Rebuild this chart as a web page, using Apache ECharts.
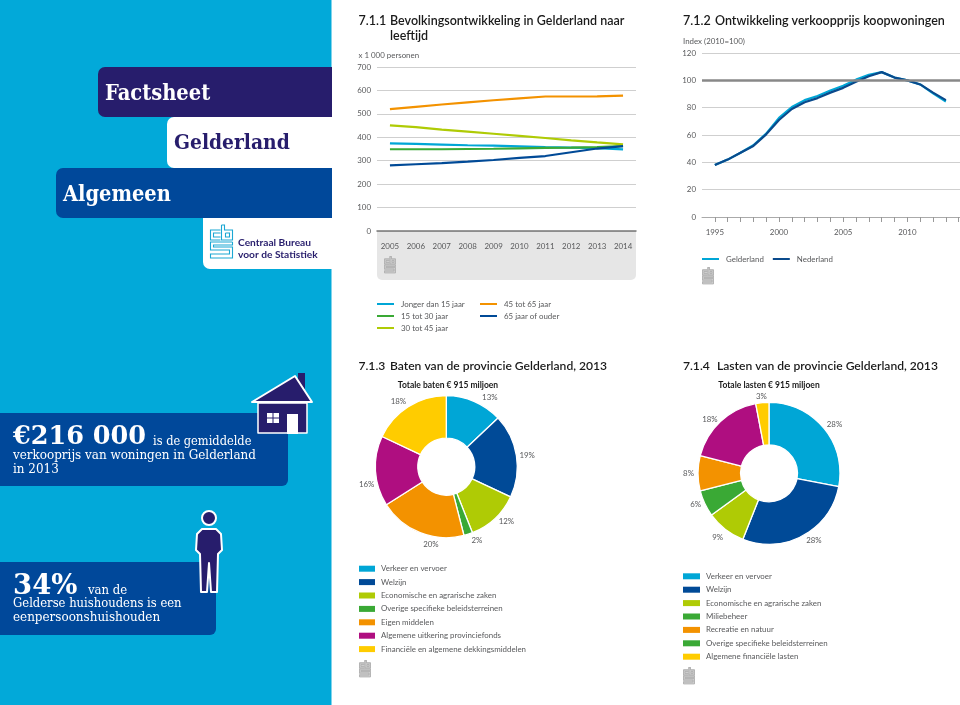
<!DOCTYPE html>
<html><head><meta charset="utf-8">
<style>html,body{margin:0;padding:0;background:#fff}#c{width:960px;height:705px}</style>
<script src="https://cdn.jsdelivr.net/npm/echarts@6/dist/echarts.min.js"></script>
</head><body><div id="c"></div>
<script>
const popYears = ['2005','2006','2007','2008','2009','2010','2011','2012','2013','2014'];
const popYoung = [374,372,369,366,364,361,358,356,354,348];
const pop15to30 = [349,349,349,350,351,353,355,356,358,362];
const pop30to45 = [451,443,433,424,415,406,397,387,378,370];
const pop45to65 = [520,530,540,549,558,566,574,574,575,578];
const pop65plus = [280,285,290,296,303,312,320,336,352,362];
const popNames = ['Jonger dan 15 jaar','15 tot 30 jaar','30 tot 45 jaar','45 tot 65 jaar','65 jaar of ouder'];

const priceYears = [1995,1996,1997,1998,1999,2000,2001,2002,2003,2004,2005,2006,2007,2008,2009,2010,2011,2012,2013];
const priceGelderland = [38,42,47,52.5,61,72.5,80.5,85.5,88.5,92.5,96,100.5,104,106,102,100,97,90.5,84.5];
const priceNederland = [38,42,47,52,60.5,71,79,84,87,91,94.5,99,103,106,102,100,97,91,85.5];
const priceLabelYears = [1995,2000,2005,2010];

const batenNames = ['Verkeer en vervoer','Welzijn','Economische en agrarische zaken','Overige specifieke beleidsterreinen','Eigen middelen','Algemene uitkering provinciefonds','Financiële en algemene dekkingsmiddelen'];
const batenValues = [13,19,12,2,20,16,18];
const lastenNames = ['Verkeer en vervoer','Welzijn','Economische en agrarische zaken','Miliebeheer','Recreatie en natuur','Overige specifieke beleidsterreinen','Algemene financiële lasten'];
const lastenValues = [28,28,9,6,8,18,3];

const CY='#00a6d6',NV='#004a97',LM='#afcb05',GR='#3aa935',OR='#f39200',MG='#af0e80',YL='#ffcc00';
const pieColors=[CY,NV,LM,GR,OR,MG,YL];
const PANEL='#02a9d9',PURPLE='#271d6c',BLUE='#00489a';
const SANS='Lato, "Open Sans", sans-serif', SLAB='"DejaVu Serif Condensed","DejaVu Serif",serif', SLABW='"DejaVu Serif",serif';
const TXT='#58595b', SMALL=7.9;

const g=[];
function rect(x,y,w,h,fill,r,z){g.push({type:'rect',shape:{x,y,width:w,height:h,r:r||0},style:{fill},z:z===undefined?1:z,silent:true});}
function txt(x,y,text,font,fill,align,z){g.push({type:'text',style:{x,y,text,font,fill:fill||TXT,align:align||'left',verticalAlign:'middle'},z:z||5,silent:true});}
function poly(points,fill,stroke,lw,z){g.push({type:'polygon',shape:{points},style:{fill,stroke,lineWidth:lw,lineJoin:'round'},z:z||3,silent:true});}
function logo(x,y,s,color,lw,z){
  const P=a=>a.map(p=>[x+p[0]*s,y+p[1]*s]);
  [[[10,5],[0,5],[0,15],[10,15]],[[10,8],[3,8],[3,12],[10,12]],
   [[11,0],[11,15],[22,15],[22,5],[14,5],[14,0],[11,0]],[[15,8],[19,8],[19,12],[15,12],[15,8]],
   [[22,17],[0,17],[0,25],[19,25],[19,29],[0,29],[0,33],[22,33],[22,22],[3,22],[3,20],[22,20],[22,17]]
  ].forEach(l=>g.push({type:'polyline',shape:{points:P(l)},style:{stroke:color,lineWidth:lw,fill:null},z:z||4,silent:true}));
}
function stamp(x,y){rect(x,y+2,12,15,'#cdcdcd',1,3);rect(x+5,y,3,3,'#cdcdcd',0,3);logo(x+.5,y+.5,.5,'#ababab',.7,4);}

// left panel
rect(0,0,331.5,705,PANEL,0,0);
rect(98,67,234,50,PURPLE,[7,0,0,7]);
rect(167,117,165,51,'#fff',[7,0,0,7]);
rect(56,168,276,50,BLUE,[7,0,0,7]);
rect(203,218,129,51,'#fff',[0,0,0,7]);
txt(105,94,'Factsheet','bold 21.7px '+SLAB,'#fff');
txt(174,144,'Gelderland','bold 20.8px '+SLAB,PURPLE);
txt(63,195,'Algemeen','bold 21.6px '+SLAB,'#fff');
logo(210.5,225,1,'#1ba7d3',1.1);
txt(238,242.5,'Centraal Bureau','bold 10.2px '+SANS,PURPLE);
txt(238,254.5,'voor de Statistiek','bold 10.2px '+SANS,PURPLE);

// house block
rect(0,413,288,73,BLUE,[0,6,6,0]);
txt(13,437,'€216 000','bold 25.5px '+SLABW,'#fff');
txt(153,442,'is de gemiddelde','12.7px '+SLAB,'#fff');
txt(13,456,'verkooprijs van woningen in Gelderland','13.3px '+SLAB,'#fff');
txt(13,470,'in 2013','13.3px '+SLAB,'#fff');
rect(298,373,7,16,PURPLE,0,3);
poly([[258,403],[307,403],[307,433],[258,433]],PURPLE,'#fff',1.5,3);
rect(287,414,11,20,'#fff',0,4);
poly([[252,402],[295,376],[312,402]],PURPLE,'#fff',2,4);
rect(267,413,12,10,'#fff',0,5);
rect(272.5,413,1,10,PURPLE,0,6);rect(267,417.5,12,1,PURPLE,0,6);

// person block
rect(0,562,216,73,BLUE,[0,6,6,0]);
txt(13,587,'34%','bold 27.5px '+SLABW,'#fff');
txt(88,591,'van de','13px '+SLAB,'#fff');
txt(13,604,'Gelderse huishoudens is een','12.9px '+SLAB,'#fff');
txt(13,618,'eenpersoonshuishouden','13.3px '+SLAB,'#fff');
g.push({type:'circle',shape:{cx:209,cy:518,r:7},style:{fill:PURPLE,stroke:'#fff',lineWidth:2},z:4,silent:true});
poly([[197,534],[202,529],[216,529],[221,534],[222,550],[218,554],[217,592],[211,592],[209,563],[207,592],[201,592],[200,554],[196,550]],PURPLE,'#fff',2,4);

// chart 1 furniture
rect(377,231,259,49,'#e6e6e6',[0,0,5,5],-1);
stamp(384,256);
const T='600 12.5px '+SANS, T2='600 12.1px '+SANS;
txt(358.5,21,'7.1.1',T,'#1a1a1a');txt(390,21,'Bevolkingsontwikkeling in Gelderland naar',T,'#1a1a1a');txt(390,36,'leeftijd',T,'#1a1a1a');
txt(358.5,55,'x 1 000 personen',SMALL+'px '+SANS);
// chart 2 furniture
txt(683,21,'7.1.2',T,'#1a1a1a');txt(715,21,'Ontwikkeling verkoopprijs koopwoningen',T,'#1a1a1a');
txt(683,41,'Index (2010=100)',SMALL+'px '+SANS);
stamp(702,267);
// chart 3 & 4 furniture
txt(358.5,366,'7.1.3',T2,'#1a1a1a');txt(390,366,'Baten van de provincie Gelderland, 2013',T2,'#1a1a1a');
txt(448,385,'Totale baten € 915 miljoen','bold 8.5px '+SANS,'#1a1a1a','center');
txt(683,366,'7.1.4',T2,'#1a1a1a');txt(717,366,'Lasten van de provincie Gelderland, 2013',T2,'#1a1a1a');
txt(769,385,'Totale lasten € 915 miljoen','bold 8.5px '+SANS,'#1a1a1a','center');
stamp(359,660);stamp(683,667);

const axisText={color:TXT,fontSize:SMALL,fontFamily:SANS};
const split={show:true,lineStyle:{color:'#cfcfcf',width:1}};
const lineS=(name,data,color,xi,extra)=>Object.assign({type:'line',name,data,xAxisIndex:xi,yAxisIndex:xi,showSymbol:false,symbol:'none',smooth:false,lineStyle:{color,width:2.2},itemStyle:{color},silent:true,animation:false},extra||{});
const legText=p=>({color:TXT,fontSize:SMALL,fontFamily:SANS,lineHeight:10,height:10,padding:[0,0,0,p]});
const leg=(left,top,orient,w,h,gap,data,p)=>({left,top,orient,padding:0,itemWidth:w,itemHeight:h,itemGap:gap,icon:'rect',data,itemStyle:{borderWidth:0},textStyle:legText(p),selectedMode:false});
const batenShift=[[-1,0],[-8,0],[-6,0],[-5,2],[27,8],[10,13],[7,-2]];
const lastenShift=[[-7,-1],[-6,1],[7,5],[7,-1],[7,0],[7,1],[12,-2]];
const pie=(names,values,center,shift)=>({type:'pie',center,radius:[28.5,71],startAngle:90,clockwise:true,animation:false,silent:true,
  data:names.map((n,i)=>({name:n,value:values[i],itemStyle:{color:pieColors[i]}})),
  itemStyle:{borderColor:'#fff',borderWidth:1.3},
  label:{show:true,position:'outside',color:TXT,fontSize:SMALL,fontFamily:SANS,formatter:'{c}%'},
  labelLine:{show:false,length:4,length2:2},
  labelLayout:p=>({dx:shift[p.dataIndex][0],dy:shift[p.dataIndex][1]})});

const option={
  animation:false,backgroundColor:'#fff',graphic:{elements:g},
  grid:[{left:377,top:67,width:259,height:164},{left:702,top:53,width:258,height:164}],
  xAxis:[
    {gridIndex:0,type:'category',data:popYears,axisLine:{lineStyle:{color:'#777',width:1.5}},axisTick:{alignWithLabel:true,length:4,lineStyle:{color:'#999'}},axisLabel:Object.assign({margin:11,interval:0},axisText)},
    {gridIndex:1,type:'value',min:1994,max:2014.1,splitLine:{show:false},axisLine:{lineStyle:{color:'#aaa'}},
     axisTick:{length:5,lineStyle:{color:'#999'},customValues:priceYears.concat([2014])},
     axisLabel:Object.assign({margin:11,customValues:priceLabelYears,formatter:v=>String(v)},axisText)}
  ],
  yAxis:[
    {gridIndex:0,type:'value',min:0,max:700,interval:100,axisLine:{show:false},axisTick:{show:false},splitLine:split,axisLabel:Object.assign({margin:6},axisText)},
    {gridIndex:1,type:'value',min:0,max:120,interval:20,axisLine:{show:false},axisTick:{show:false},splitLine:split,axisLabel:Object.assign({margin:6},axisText)}
  ],
  legend:[
    leg(377,299,'vertical',17,2,2,popNames.slice(0,3),2),
    leg(480,299,'vertical',17,2,2,popNames.slice(3),2),
    leg(702,254,'horizontal',17,2,9,['Gelderland','Nederland'],2),
    leg(359,563.7,'vertical',16,6,3.4,batenNames,1),
    leg(683,571.3,'vertical',17,6,3.4,lastenNames,1)
  ],
  series:[
    lineS(popNames[0],popYoung,CY,0),
    lineS(popNames[1],pop15to30,GR,0),
    lineS(popNames[2],pop30to45,LM,0),
    lineS(popNames[3],pop45to65,OR,0),
    lineS(popNames[4],pop65plus,NV,0),
    {type:'line',name:'_ref',xAxisIndex:1,yAxisIndex:1,data:[],z:1,silent:true,markLine:{silent:true,symbol:'none',label:{show:false},lineStyle:{color:'#888',width:2.5,type:'solid'},data:[{yAxis:100}],animation:false}},
    lineS('Gelderland',priceYears.map((y,i)=>[y,priceGelderland[i]]),CY,1,{z:3}),
    lineS('Nederland',priceYears.map((y,i)=>[y,priceNederland[i]]),'#0a4a8c',1,{z:4}),
    pie(batenNames,batenValues,[446.3,466.7],batenShift),
    pie(lastenNames,lastenValues,[769,473.3],lastenShift)
  ]
};
echarts.init(document.getElementById('c'),null,{renderer:'canvas'}).setOption(option);
</script></body></html>
